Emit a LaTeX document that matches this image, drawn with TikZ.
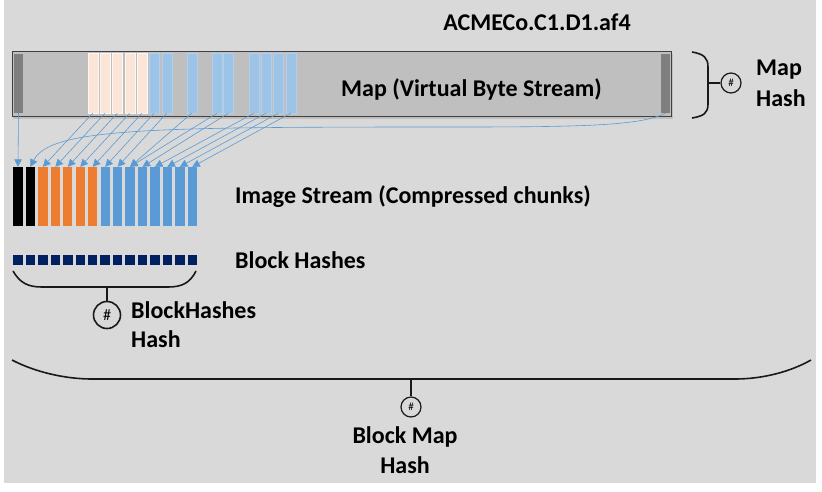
\documentclass[tikz,border=0pt]{standalone}
\usepackage{fontspec}
\setmainfont{Carlito}
\usetikzlibrary{arrows.meta}
\definecolor{bg}{HTML}{D9D9D9}
\definecolor{mapfill}{HTML}{BFBFBF}
\definecolor{mapedge}{HTML}{404040}
\definecolor{stripe}{HTML}{7F7F7F}
\definecolor{peach}{HTML}{FBE5D6}
\definecolor{lblue}{HTML}{9DC3E6}
\definecolor{mblue}{HTML}{5B9BD5}
\definecolor{orng}{HTML}{ED7D31}
\definecolor{navy}{HTML}{002060}
\definecolor{arrowc}{HTML}{5B9BD5}
\tikzset{
  lbl/.style={font=\bfseries\fontsize{24}{29}\selectfont, inner sep=0pt},
  srcbar/.style={rectangle, inner sep=0pt, minimum width=10pt, minimum height=60pt, draw=white!70!peach, line width=0.4pt},
  tgtbar/.style={rectangle, inner sep=0pt, minimum width=9.3pt, minimum height=59pt},
  hsq/.style={rectangle, fill=navy, inner sep=0pt, minimum width=9.5pt, minimum height=10pt},
  brace/.style={line width=1.6pt, black!90},
  hashc/.style={circle, draw=black!90, line width=1.2pt, inner sep=0pt, font=\fontsize{11}{12}\selectfont},
  mapline/.style={draw=arrowc, line width=0.6pt, -{Triangle[width=7.5pt,length=7.5pt]}},
}
\begin{document}
\begin{tikzpicture}[x=1pt,y=-1pt]
\useasboundingbox (0,0) rectangle (822,491);
\fill[white] (0,0) rectangle (822,491);
\fill[bg] (4,0) rectangle (816,483);

% title
\node[lbl] (title) at (537,22) {ACMECo.C1.D1.af4};

% map box
\fill[black!25] (13,54) rectangle (673,119);
\node[rectangle, fill=mapfill, draw=mapedge, line width=1pt, inner sep=0pt,
      minimum width=659pt, minimum height=65pt] (map) at (341.5,83.5) {};
\node[lbl, anchor=west] (maptxt) at (341,89) {Map (Virtual Byte Stream)};

% stripes
\node[rectangle, fill=stripe, inner sep=0pt, minimum width=9pt, minimum height=59pt] (sL) at (18.5,83.5) {};
\node[rectangle, fill=stripe, inner sep=0pt, minimum width=9pt, minimum height=59pt] (sR) at (665.5,83.5) {};

% peach source bars
\foreach \x [count=\i] in {92.7,105,117.3,129.7,142}
  \node[srcbar, fill=peach] (p\i) at (\x,83) {};
% blue source bars
\foreach \x [count=\i] in {154,166.7,191.7,217,228.3,254,266,278.3,290.7}
  \node[srcbar, fill=lblue, draw=lblue!80!white] (b\i) at (\x,83) {};

% image stream bars
\foreach \i in {1,...,15} {
  \pgfmathsetmacro{\xx}{18+12.45*(\i-1)}
  \ifnum\i<3
    \node[tgtbar, fill=black] (t\i) at (\xx,196.5) {};
  \else\ifnum\i<8
    \node[tgtbar, fill=orng] (t\i) at (\xx,196.5) {};
  \else
    \node[tgtbar, fill=mblue] (t\i) at (\xx,196.5) {};
  \fi\fi
}
\node[lbl, anchor=west] (imgtxt) at (235,197) {Image Stream (Compressed chunks)};

% block hashes
\foreach \i in {1,...,15} {
  \pgfmathsetmacro{\xx}{18+12.45*(\i-1)}
  \node[hsq] (h\i) at (\xx,259.5) {};
}
\node[lbl, anchor=west] (bhtxt) at (235,260) {Block Hashes};

% mapping arrows
\draw[mapline] (sL.south) -- (t1.north);
\foreach \i/\j in {1/3,2/4,3/5,4/6,5/7}
  \draw[mapline] (p\i.south) -- (t\j.north);
\foreach \i/\j in {1/8,2/9,3/10,4/10,5/11,6/12,7/13,8/14,9/15}
  \draw[mapline] (b\i.south) -- (t\j.north);
\draw[mapline] (sR.south) .. controls (640,126) and (580,127) .. (450,127)
   .. controls (150,127) and (50,128) .. (t2.north);

% Map hash brace
\draw[brace] (692,52) .. controls (704,54) and (708,58) .. (708,67) -- (708,104)
   .. controls (708,113) and (704,116) .. (692,118);
\coordinate (mhs) at (708,83);
\node[hashc, minimum size=20pt] (mhc) at (731,83) {\#};
\draw[brace, line width=1.4pt] (mhs) -- (mhc.west);
\node[lbl, anchor=west] (mh1) at (756,70) {Map};
\node[lbl, anchor=west] (mh2) at (756,98) {Hash};

% BlockHashes brace
\draw[brace] (13,271) .. controls (20,283) and (28,287) .. (42,287) -- (168,287)
   .. controls (182,287) and (190,283) .. (196,271);
\coordinate (bhs) at (107,287);
\node[hashc, minimum size=27pt, line width=1.6pt, font=\fontsize{16}{18}\selectfont] (bhc) at (107,315) {\#};
\draw[brace] (bhs) -- (bhc.north);
\node[lbl, anchor=west] (bh1) at (131,310) {BlockHashes};
\node[lbl, anchor=west] (bh2) at (131,339) {Hash};

% Block map brace
\draw[brace] (12,360) .. controls (35,372) and (65,379) .. (92,379) -- (735,379)
   .. controls (762,379) and (790,372) .. (811,360);
\coordinate (bms) at (411,379);
\node[hashc, minimum size=20pt] (bmc) at (411,407) {\#};
\draw[brace, line width=1.4pt] (bms) -- (bmc.north);
\node[lbl] (bm1) at (405,437) {Block Map};
\node[lbl] (bm2) at (405,465) {Hash};
\end{tikzpicture}
\end{document}
